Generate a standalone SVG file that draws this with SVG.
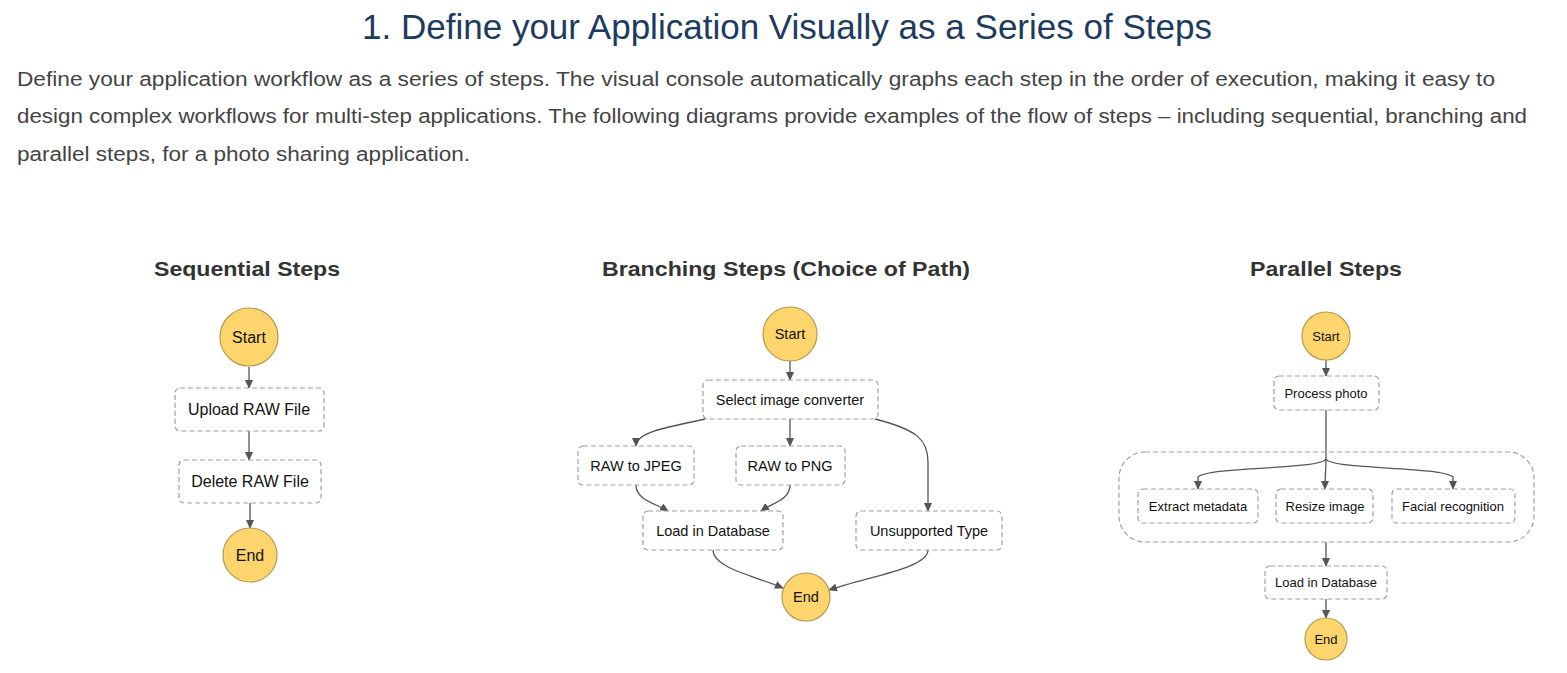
<svg xmlns="http://www.w3.org/2000/svg" width="1567" height="673" viewBox="0 0 1567 673">
<style>
.title{font-family:"Liberation Sans",Arial,sans-serif;font-size:35px;fill:#1d3b5e}
.para{font-family:"Liberation Sans",Arial,sans-serif;font-size:20px;fill:#444}
.head{font-family:"Liberation Sans",Arial,sans-serif;font-size:21px;font-weight:bold;fill:#333;text-anchor:middle}
.lbl{font-family:"Liberation Sans",Arial,sans-serif;fill:#111;text-anchor:middle}
.s16{font-size:16px}.s14{font-size:14.5px}.s13{font-size:13px}
.box{fill:#fff;stroke:#a0a0a0;stroke-width:1.2;stroke-dasharray:5 3}
.term{fill:#fdd56c;stroke:#b49a52;stroke-width:1.2}
.edge{fill:none;stroke:#555;stroke-width:1.3;marker-end:url(#arr)}
.line{fill:none;stroke:#555;stroke-width:1.3}
</style>
<defs>
<marker id="arr" markerWidth="9" markerHeight="8" refX="8" refY="4" orient="auto" markerUnits="userSpaceOnUse">
<path d="M0,0 L9,4 L0,8 z" fill="#555"/>
</marker>
</defs>
<rect width="1567" height="673" fill="#fff"/>
<text class="title" x="362" y="39" textLength="850" lengthAdjust="spacingAndGlyphs">1. Define your Application Visually as a Series of Steps</text>
<text class="para" x="17" y="86" textLength="1478" lengthAdjust="spacingAndGlyphs">Define your application workflow as a series of steps. The visual console automatically graphs each step in the order of execution, making it easy to</text>
<text class="para" x="17" y="123" textLength="1510" lengthAdjust="spacingAndGlyphs">design complex workflows for multi-step applications. The following diagrams provide examples of the flow of steps – including sequential, branching and</text>
<text class="para" x="17" y="161" textLength="453" lengthAdjust="spacingAndGlyphs">parallel steps, for a photo sharing application.</text>

<text class="head" x="247" y="276" textLength="186" lengthAdjust="spacingAndGlyphs">Sequential Steps</text>
<text class="head" x="786" y="276" textLength="368" lengthAdjust="spacingAndGlyphs">Branching Steps (Choice of Path)</text>
<text class="head" x="1326" y="276" textLength="152" lengthAdjust="spacingAndGlyphs">Parallel Steps</text>

<g id="connectors">
<!-- sequential -->
<path class="edge" d="M249 367 L249 388"/>
<path class="edge" d="M249 431 L249 460"/>
<path class="edge" d="M250 503 L250 528"/>
<!-- branching -->
<path class="edge" d="M790 361 L790 380"/>
<path class="edge" d="M705 419 C665 428 636 432 636 446"/>
<path class="edge" d="M790 419 L790 446"/>
<path class="edge" d="M875 419 C918 430 928 440 928 462 L928 511"/>
<path class="edge" d="M636 485 C636 500 655 503 668 511"/>
<path class="edge" d="M790 485 C790 500 772 503 761 511"/>
<path class="edge" d="M713 550 C713 568 755 576 783 588"/>
<path class="edge" d="M928 550 C928 568 870 576 829 590"/>
<!-- parallel -->
<path class="edge" d="M1326 360 L1326 376"/>
<path class="line" d="M1326 410 L1326 459"/>
<path class="edge" d="M1326 459 C1320 470 1210 466 1198 477 L1198 489"/>
<path class="edge" d="M1326 459 C1326 470 1325 475 1325 489"/>
<path class="edge" d="M1326 459 C1332 470 1440 466 1453 477 L1453 489"/>
<path class="edge" d="M1326 542 L1326 566"/>
<path class="edge" d="M1326 599 L1326 618"/>
</g>

<g id="seq-start"><circle class="term" cx="249" cy="337" r="29"/><text class="lbl s16" x="249" y="343">Start</text></g>
<g id="seq-upload"><rect class="box" x="175" y="388" width="149" height="43" rx="5"/><text class="lbl s16" x="249" y="415">Upload RAW File</text></g>
<g id="seq-delete"><rect class="box" x="179" y="460" width="142" height="43" rx="5"/><text class="lbl s16" x="250" y="487">Delete RAW File</text></g>
<g id="seq-end"><circle class="term" cx="250" cy="555" r="27"/><text class="lbl s16" x="250" y="561">End</text></g>

<g id="br-start"><circle class="term" cx="790" cy="334" r="27"/><text class="lbl s14" x="790" y="339">Start</text></g>
<g id="br-select"><rect class="box" x="703" y="380" width="175" height="39" rx="5"/><text class="lbl s14" x="790" y="405">Select image converter</text></g>
<g id="br-jpeg"><rect class="box" x="578" y="446" width="116" height="39" rx="5"/><text class="lbl s14" x="636" y="471">RAW to JPEG</text></g>
<g id="br-png"><rect class="box" x="736" y="446" width="109" height="39" rx="5"/><text class="lbl s14" x="790" y="471">RAW to PNG</text></g>
<g id="br-load"><rect class="box" x="643" y="511" width="140" height="39" rx="5"/><text class="lbl s14" x="713" y="536">Load in Database</text></g>
<g id="br-unsup"><rect class="box" x="856" y="511" width="146" height="39" rx="5"/><text class="lbl s14" x="929" y="536">Unsupported Type</text></g>
<g id="br-end"><circle class="term" cx="806" cy="597" r="24"/><text class="lbl s14" x="806" y="602">End</text></g>

<g id="par-start"><circle class="term" cx="1326" cy="336" r="24"/><text class="lbl s13" x="1326" y="341">Start</text></g>
<g id="par-process"><rect class="box" x="1274" y="376" width="105" height="34" rx="5"/><text class="lbl s13" x="1326" y="398">Process photo</text></g>
<g id="par-container"><rect class="box" x="1119" y="452" width="415" height="90" rx="26" fill="none" style="fill:none"/></g>
<g id="par-extract"><rect class="box" x="1138" y="489" width="120" height="34" rx="5"/><text class="lbl s13" x="1198" y="511">Extract metadata</text></g>
<g id="par-resize"><rect class="box" x="1276" y="489" width="97" height="34" rx="5"/><text class="lbl s13" x="1325" y="511">Resize image</text></g>
<g id="par-facial"><rect class="box" x="1392" y="489" width="123" height="34" rx="5"/><text class="lbl s13" x="1453" y="511">Facial recognition</text></g>
<g id="par-load"><rect class="box" x="1265" y="566" width="122" height="33" rx="5"/><text class="lbl s13" x="1326" y="587">Load in Database</text></g>
<g id="par-end"><circle class="term" cx="1326" cy="639" r="21"/><text class="lbl s13" x="1326" y="644">End</text></g>
</svg>
